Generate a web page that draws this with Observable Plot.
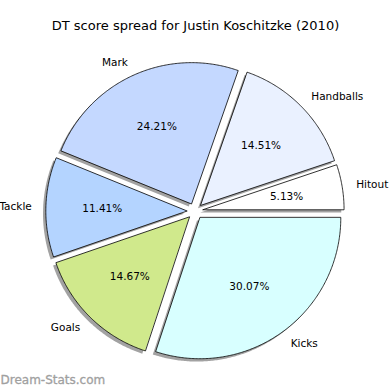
<!DOCTYPE html>
<html>
<head>
<meta charset="utf-8">
<script src="https://cdn.jsdelivr.net/npm/d3@7"></script>
<script src="https://cdn.jsdelivr.net/npm/@observablehq/plot@0.6"></script>
<style>
  html, body { margin: 0; padding: 0; background: #fff; }
  svg { display: block; }
</style>
</head>
<body>
<div id="chart"></div>
<script>
const title = "DT score spread for Justin Koschitzke (2010)";
const watermark = "Dream-Stats.com";
const categories = ["Hitout", "Handballs", "Mark", "Tackle", "Goals", "Kicks"];
const values = [5.13, 14.51, 24.21, 11.41, 14.67, 30.07];
const colors = ["#ffffff", "#eaf1ff", "#c4d8ff", "#b4d4ff", "#d0e98c", "#d8ffff"];

const explode = 0.058;
const total = d3.sum(values);

// angles: matplotlib style, start at 0 (east), counter-clockwise
let acc = 0;
const slices = categories.map((name, i) => {
  const a0 = acc / total * 2 * Math.PI;
  acc += values[i];
  const a1 = acc / total * 2 * Math.PI;
  const mid = (a0 + a1) / 2;
  const ox = explode * Math.cos(mid), oy = explode * Math.sin(mid);
  return {name, value: values[i], color: colors[i], a0, a1, mid, ox, oy};
});

function polygon(s, dx, dy) {
  const pts = [{x: s.ox + dx, y: s.oy + dy}];
  const n = Math.max(8, Math.ceil((s.a1 - s.a0) / 0.01));
  for (let k = 0; k <= n; k++) {
    const a = s.a0 + (s.a1 - s.a0) * k / n;
    pts.push({x: s.ox + dx + Math.cos(a), y: s.oy + dy + Math.sin(a)});
  }
  return pts.map(p => ({...p, name: s.name, color: s.color}));
}

const sh = 0.02;
const shadowPts = slices.flatMap(s => polygon(s, -sh, -sh));
const slicePts = slices.flatMap(s => polygon(s, 0, 0));

const labels = slices.map(s => {
  const x = s.ox + 1.1 * Math.cos(s.mid), y = s.oy + 1.1 * Math.sin(s.mid);
  return {name: s.name, x, y, anchor: x > 0 ? "start" : "end"};
});
const pcts = slices.map(s => ({
  text: s.value.toFixed(2) + "%",
  x: s.ox + 0.6 * Math.cos(s.mid),
  y: s.oy + 0.6 * Math.sin(s.mid)
}));

const W = 390, H = 390, cx = 194.5, cy = 210.6, R = 141;

const chart = Plot.plot({
  width: W, height: H,
  margin: 0,
  style: {fontFamily: "DejaVu Sans", background: "#fff"},
  x: {domain: [-cx / R, (W - cx) / R], axis: null},
  y: {domain: [-(H - cy) / R, cy / R], axis: null},
  marks: [
    Plot.line(shadowPts, {x: "x", y: "y", z: "name", curve: "linear-closed", fill: "#555", fillOpacity: 0.55, stroke: "none"}),
    Plot.line(slicePts, {x: "x", y: "y", z: "name", curve: "linear-closed", fill: "color", stroke: "#000", strokeWidth: 0.8}),
    Plot.text(labels.filter(d => d.anchor === "start"), {x: "x", y: "y", text: "name", textAnchor: "start", fontSize: 10.5, fill: "#000"}),
    Plot.text(labels.filter(d => d.anchor === "end"), {x: "x", y: "y", text: "name", textAnchor: "end", fontSize: 10.5, fill: "#000"}),
    Plot.text(pcts, {x: "x", y: "y", text: "text", fontSize: 10.5, fill: "#000"}),
    Plot.text([title], {frameAnchor: "top", dy: 25, text: d => d, fontSize: 13, fill: "#000", lineAnchor: "middle"}),
    Plot.text([watermark], {frameAnchor: "bottom-left", dx: 0, dy: -10, text: d => d, fontSize: 12, fontWeight: "normal", stroke: "#a0a0a0", strokeWidth: 0.3, fill: "#a0a0a0", textAnchor: "start", lineAnchor: "middle"})
  ]
});
document.getElementById("chart").appendChild(chart);
</script>
</body>
</html>
